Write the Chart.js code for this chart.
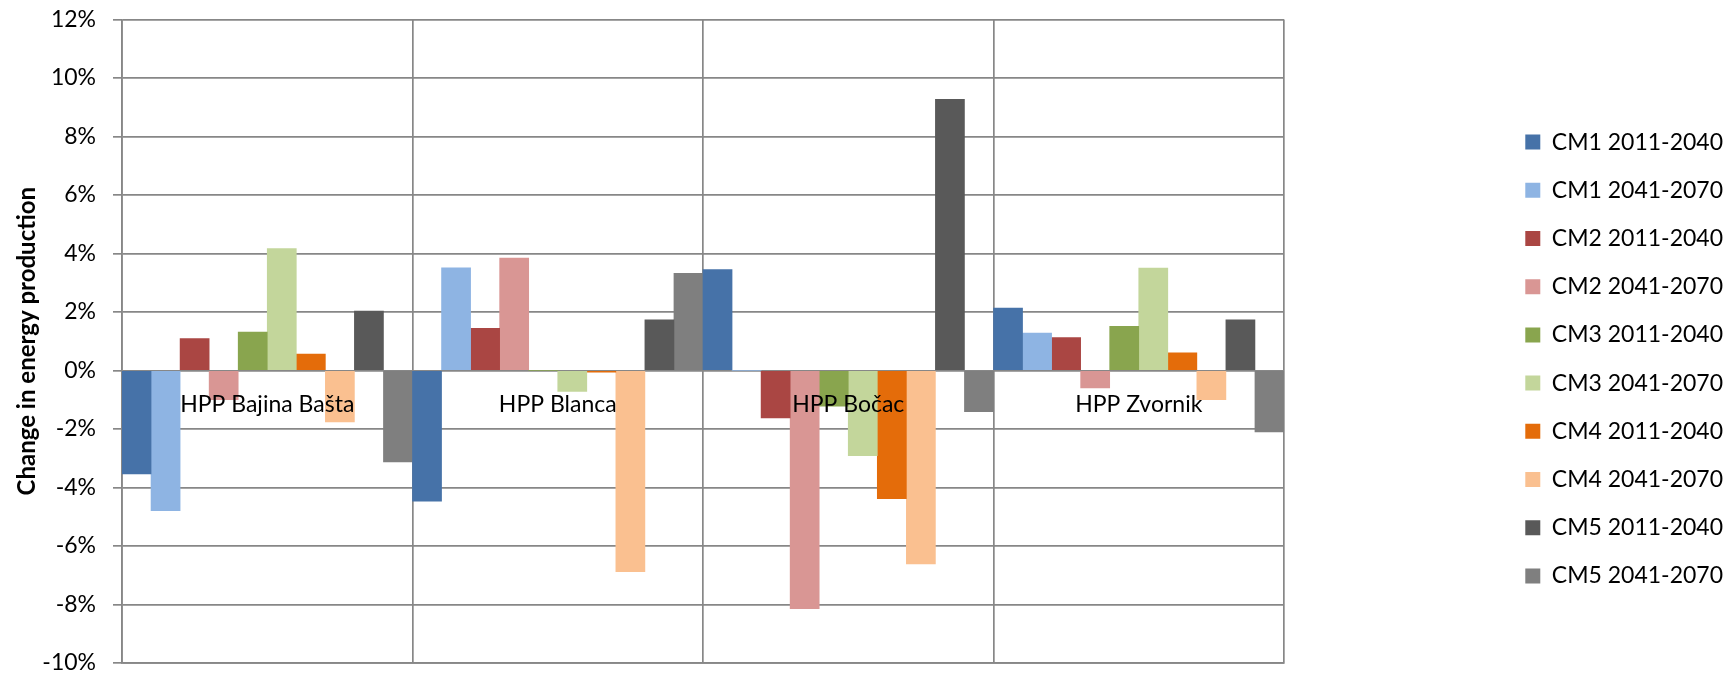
<!DOCTYPE html>
<html>
<head>
<meta charset="utf-8">
<script src="https://cdn.jsdelivr.net/npm/chart.js@4"></script>
<style>
  html, body { margin: 0; padding: 0; background: #fff; }
  #chart { display: block; }
</style>
</head>
<body>
<canvas id="chart" width="1735" height="674"></canvas>
<script>
// hydropower plants (categories)
const sites = ['HPP Bajina Bašta', 'HPP Blanca', 'HPP Bočac', 'HPP Zvornik'];

// change in energy production, %
const cm1Early = [-3.54, -4.47, 3.45, 2.13];
const cm1Late  = [-4.79, 3.51, 0, 1.28];
const cm2Early = [1.09, 1.44, -1.62, 1.12];
const cm2Late  = [-1.0, 3.84, -8.14, -0.60];
const cm3Early = [1.31, 0, -1.22, 1.51];
const cm3Late  = [4.17, -0.72, -2.91, 3.50];
const cm4Early = [0.56, -0.06, -4.38, 0.60];
const cm4Late  = [-1.76, -6.88, -6.61, -1.0];
const cm5Early = [2.03, 1.73, 9.27, 1.73];
const cm5Late  = [-3.13, 3.32, -1.41, -2.10];

const seriesNames = [
  'CM1 2011-2040', 'CM1 2041-2070', 'CM2 2011-2040', 'CM2 2041-2070',
  'CM3 2011-2040', 'CM3 2041-2070', 'CM4 2011-2040', 'CM4 2041-2070',
  'CM5 2011-2040', 'CM5 2041-2070'
];
const seriesValues = [cm1Early, cm1Late, cm2Early, cm2Late, cm3Early, cm3Late, cm4Early, cm4Late, cm5Early, cm5Late];
const seriesColors = ['#4672A8', '#8EB4E3', '#AA4643', '#D99694', '#89A54E', '#C3D69B', '#E46C0A', '#FAC090', '#595959', '#7F7F7F'];

const yTicks = { min: -10, max: 12, step: 2 };

const FONT = 'Lato';
const gridColor = '#878787';
const W = 1735;
const PLOT_RIGHT = 1284;
const PAD_RIGHT = 2;

// category names sit just under the zero line, like the original
const siteLabels = {
  id: 'siteLabels',
  afterDatasetsDraw(chart) {
    const { ctx, scales: { x, y } } = chart;
    const y0 = y.getPixelForValue(0);
    ctx.save();
    ctx.font = '23px ' + FONT;
    ctx.fillStyle = '#000';
    ctx.textAlign = 'center';
    ctx.textBaseline = 'middle';
    sites.forEach((s, i) => {
      ctx.fillText(s, x.getPixelForValue(i), y0 + 34);
    });
    ctx.restore();
  }
};

new Chart(document.getElementById('chart'), {
  type: 'bar',
  data: {
    labels: sites,
    datasets: seriesNames.map((name, i) => ({
      label: name,
      data: seriesValues[i],
      backgroundColor: seriesColors[i],
      borderWidth: 0,
      categoryPercentage: 1,
      barPercentage: 1
    }))
  },
  options: {
    responsive: false,
    animation: false,
    devicePixelRatio: 1,
    layout: { padding: { top: 19.4, bottom: 11, left: 0, right: PAD_RIGHT } },
    plugins: {
      tooltip: { enabled: false },
      legend: {
        position: 'right',
        align: 'start',
        title: { display: true, text: '', padding: { top: 71.6, bottom: 0 } },
        labels: {
          boxWidth: 15,
          boxHeight: 15,
          padding: 25.2,
          color: '#000',
          font: { family: FONT, size: 23 }
        }
      }
    },
    scales: {
      x: {
        grid: { color: gridColor, lineWidth: 1.7, drawTicks: false, offset: true },
        border: { color: gridColor, width: 1.7 },
        ticks: { display: false }
      },
      y: {
        min: yTicks.min,
        max: yTicks.max,
        ticks: {
          stepSize: yTicks.step,
          padding: 17,
          color: '#000',
          font: { family: FONT, size: 23 },
          callback: v => v + '%'
        },
        grid: { color: gridColor, lineWidth: 1.7, tickLength: 9, tickColor: gridColor },
        border: { color: gridColor, width: 1.7 },
        title: {
          display: true,
          text: 'Change in energy production',
          color: '#000',
          font: { family: FONT, size: 24, weight: 'bold' },
          padding: { top: 12.6, bottom: 0 }
        },
        afterFit(s) { s.width = 122; s.paddingTop = 0; s.paddingBottom = 0; }
      },
      // empty spacer between plot and legend
      y2: {
        position: 'right',
        grid: { display: false },
        border: { display: false },
        ticks: { display: false },
        afterFit(s) {
          const lw = s.chart.legend ? s.chart.legend.width : 0;
          s.width = Math.max(0, W - PAD_RIGHT - lw - PLOT_RIGHT);
        }
      }
    }
  },
  plugins: [siteLabels]
});
</script>
</body>
</html>
